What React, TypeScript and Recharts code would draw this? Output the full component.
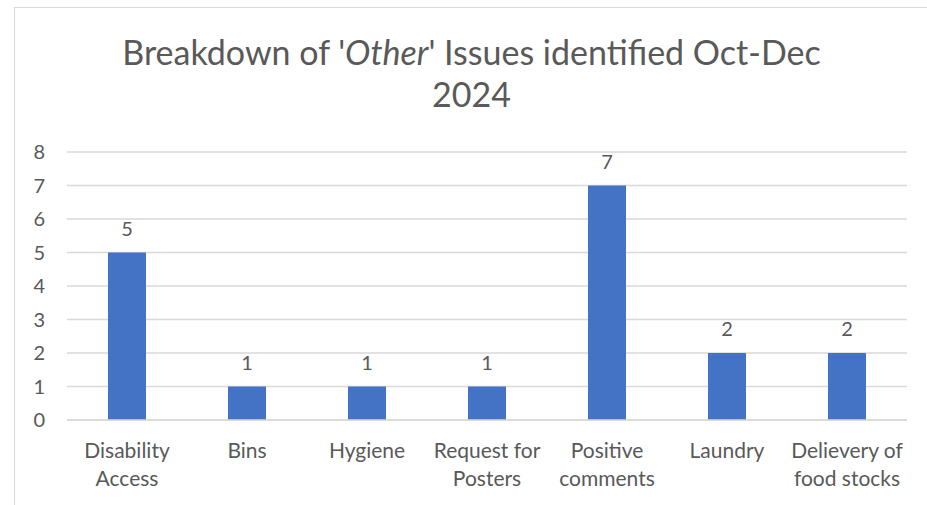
import React from 'react';
import { BarChart, Bar, XAxis, YAxis, CartesianGrid, LabelList } from 'recharts';

const categories = ['Disability Access', 'Bins', 'Hygiene', 'Request for Posters', 'Positive comments', 'Laundry', 'Delievery of food stocks'];
const categoryLines = [
    ['Disability', 'Access'],
    ['Bins'],
    ['Hygiene'],
    ['Request for', 'Posters'],
    ['Positive', 'comments'],
    ['Laundry'],
    ['Delievery of', 'food stocks'],
];
const counts = [5, 1, 1, 1, 7, 2, 2];
const yTicks = [0, 1, 2, 3, 4, 5, 6, 7, 8];

const data = categories.map((name, i) => ({ name, lines: categoryLines[i], count: counts[i] }));

const FONT = 'Lato, "Open Sans", sans-serif';
const TEXT = '#595959';

const WrappedTick = ({ x, y, index }: any) => {
    const lines = categoryLines[index] || [];
    return (
        <g transform={`translate(${x},${y})`}>
            <text textAnchor="middle" fill={TEXT} fontSize={21} fontFamily={FONT}>
                {lines.map((line, i) => (
                    <tspan key={i} x={0} dy={i === 0 ? 30 : 28}>{line}</tspan>
                ))}
            </text>
        </g>
    );
};

export default function App() {
    return (
        <div style={{ position: 'absolute', left: 14, top: 7, width: 913, height: 498, border: '1px solid #d9d9d9', borderRight: 'none', borderBottom: 'none', background: '#fff', overflow: 'hidden', fontFamily: FONT }}>
            <div style={{ position: 'absolute', top: 23, left: 0, width: 913, textAlign: 'center', color: TEXT, fontSize: 34, lineHeight: '42px' }}>
                Breakdown of '<i>Other</i>' Issues identified Oct-Dec<br />2024
            </div>
            <BarChart width={913} height={498} data={data} margin={{ top: 144, right: 21, bottom: 6, left: 0 }}>
                <CartesianGrid vertical={false} stroke="#d9d9d9" strokeWidth={1.5} />
                <XAxis dataKey="name" tick={<WrappedTick />} axisLine={{ stroke: '#d9d9d9', strokeWidth: 1.5 }} tickLine={false} interval={0} height={80} />
                <YAxis domain={[0, 8]} ticks={yTicks} axisLine={false} tickLine={false} tickSize={0} tickMargin={22} width={52} tick={{ fill: TEXT, fontSize: 20, fontFamily: FONT }} />
                <Bar dataKey="count" fill="#4472C4" barSize={38} isAnimationActive={false}>
                    <LabelList dataKey="count" position="top" offset={17} fill={TEXT} fontSize={20} fontFamily={FONT} />
                </Bar>
            </BarChart>
        </div>
    );
}
